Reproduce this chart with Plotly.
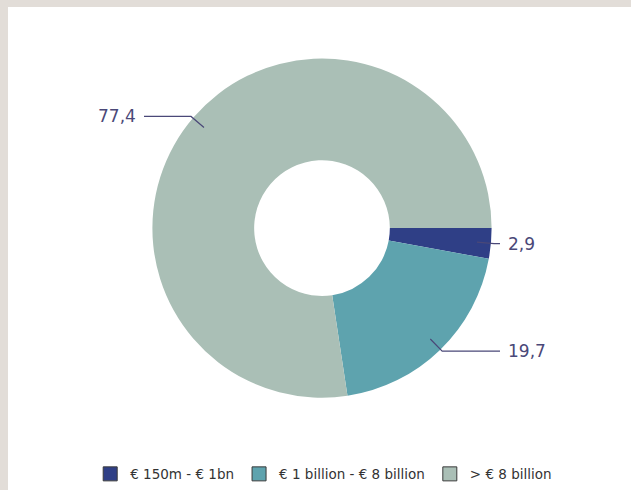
import math
import plotly.graph_objects as go

categories = ["€ 150m - € 1bn", "€ 1 billion - € 8 billion", "> € 8 billion"]
values = [2.9, 19.7, 77.4]
value_labels = ["2,9", "19,7", "77,4"]
colors = ["#2f3f86", "#5ea3ae", "#aabfb6"]

W, H = 631, 490
CX, CY, R = 322, 230, 171
HOLE = 0.4
LABEL_COLOR = "#4a4878"
FONT = "DejaVu Sans"

def px(x):
    return x / W

def py(y):
    return 1 - y / H

fig = go.Figure()
fig.add_trace(go.Pie(
    labels=categories, values=values, sort=False, direction="clockwise",
    rotation=90, hole=HOLE, textinfo="none", hoverinfo="label+value",
    marker=dict(colors=colors, line=dict(width=0)),
    domain=dict(x=[px(CX - R), px(CX + R)], y=[py(CY + R), py(CY - R)]),
    showlegend=False,
))

for name, c in zip(categories, colors):
    fig.add_trace(go.Scatter(
        x=[None], y=[None], mode="markers", name=name,
        marker=dict(symbol="square", size=14, color=c, line=dict(color="#3a3a3a", width=1)),
    ))

shapes = [dict(type="rect", xref="paper", yref="paper", x0=px(8), x1=1.05, y0=-0.05, y1=py(7),
               fillcolor="white", line=dict(width=0), layer="below")]
annotations = []
total = sum(values)
cum = 0.0
for v, lab in zip(values, value_labels):
    mid = (cum + v / 2) / total
    cum += v
    ang = -mid * 2 * math.pi  # clockwise from 3 o'clock
    ca, sa = math.cos(ang), -math.sin(ang)  # screen y down
    x1, y1 = CX + ca * R * 0.91, CY + sa * R * 0.91
    x2, y2 = CX + ca * R * 1.01, CY + sa * R * 1.01
    side = 1 if ca >= 0 else -1
    x3 = CX + side * 178
    path = f"M {px(x1)},{py(y1)} L {px(x2)},{py(y2)} L {px(x3)},{py(y2)}"
    shapes.append(dict(type="path", xref="paper", yref="paper", path=path,
                       line=dict(color=LABEL_COLOR, width=1.2), layer="above"))
    annotations.append(dict(
        x=px(x3 + side * 6), y=py(y2), xref="paper", yref="paper", text=lab,
        showarrow=False, xanchor="left" if side > 0 else "right", yanchor="middle",
        font=dict(family=FONT, size=17, color=LABEL_COLOR),
    ))

fig.update_layout(
    width=W, height=H,
    margin=dict(l=0, r=0, t=0, b=0),
    paper_bgcolor="#e2ddd8",
    plot_bgcolor="rgba(0,0,0,0)",
    xaxis=dict(visible=False), yaxis=dict(visible=False),
    shapes=shapes, annotations=annotations,
    showlegend=True,
    legend=dict(orientation="h", x=0.513, xanchor="center", y=py(478), yanchor="middle",
                font=dict(family=FONT, size=13.5, color="#333333"),
                bgcolor="rgba(0,0,0,0)", itemwidth=30),
)

fig.write_html("out.html", config={"displayModeBar": False},
               post_script="document.body.style.margin='0';document.body.style.overflow='hidden';")
